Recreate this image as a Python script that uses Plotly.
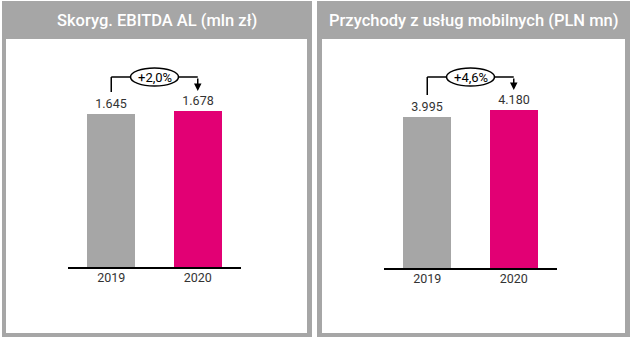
import plotly.graph_objects as go

# Chart data
years = ["2019", "2020"]
ebitda_al = [1645, 1678]
mobile_revenue = [3995, 4180]
titles = ["Skoryg. EBITDA AL (mln zł)", "Przychody z usług mobilnych (PLN mn)"]
changes = ["+2,0%", "+4,6%"]

W, H = 630, 341
GRAY = "#a6a6a6"
MAGENTA = "#e20074"
TEXT = "#333333"
FONT = "Roboto, Arial, sans-serif"


def fx(px):
    return px / W


def fy(py):
    return 1 - py / H


panels = [
    dict(box=(2, 1, 312, 337), inner=(6, 39, 307, 333), xdom=(68, 241),
         base=267, top=39, ymax=2451, xa="x", ya="y",
         values=ebitda_al, title=titles[0], change=changes[0]),
    dict(box=(317, 1, 630, 337), inner=(322, 39, 625, 333), xdom=(384, 557),
         base=268, top=39, ymax=6059, xa="x2", ya="y2",
         values=mobile_revenue, title=titles[1], change=changes[1]),
]

fig = go.Figure()
shapes = []
annotations = []

for i, p in enumerate(panels):
    # panel frame with grey header band
    bx0, by0, bx1, by1 = p["box"]
    ix0, iy0, ix1, iy1 = p["inner"]
    shapes.append(dict(type="rect", xref="paper", yref="paper", layer="below",
                       x0=fx(bx0), x1=fx(bx1), y0=fy(by1), y1=fy(by0),
                       fillcolor=GRAY, line=dict(width=0)))
    shapes.append(dict(type="rect", xref="paper", yref="paper", layer="below",
                       x0=fx(ix0), x1=fx(ix1), y0=fy(iy1), y1=fy(iy0),
                       fillcolor="white", line=dict(width=0)))
    annotations.append(dict(xref="paper", yref="paper", x=fx((bx0 + bx1) / 2),
                            y=fy(21), text=p["title"], showarrow=False,
                            xanchor="center", yanchor="middle",
                            font=dict(family=FONT, size=16.5, color="white",
                                      weight=500)))

    fig.add_trace(go.Bar(
        x=years, y=p["values"], xaxis=p["xa"], yaxis=p["ya"],
        marker=dict(color=[GRAY, MAGENTA], line=dict(width=0)),
        width=0.55, text=p["values"], texttemplate="%{y:,}",
        textposition="outside", cliponaxis=False,
        textfont=dict(family=FONT, size=12.5, color=TEXT),
        showlegend=False, hoverinfo="skip",
    ))

    # growth bracket between the two bars
    ppu = (p["base"] - p["top"]) / p["ymax"]  # pixels per unit
    level = (p["base"] - 77) / ppu
    start = p["values"][0] + 22 / ppu
    tip = p["values"][1] + 20 / ppu
    unit_px = (p["xdom"][1] - p["xdom"][0]) / 2
    half = 24 / unit_px
    e_y0 = (p["base"] - 86) / ppu
    e_y1 = (p["base"] - 68) / ppu
    ln = dict(color="black", width=1.5)
    shapes += [
        dict(type="line", xref=p["xa"], yref=p["ya"], x0=0, x1=0,
             y0=start, y1=level, line=ln),
        dict(type="line", xref=p["xa"], yref=p["ya"], x0=0, x1=0.5 - half,
             y0=level, y1=level, line=ln),
        dict(type="line", xref=p["xa"], yref=p["ya"], x0=0.5 + half, x1=1,
             y0=level, y1=level, line=ln),
        dict(type="circle", xref=p["xa"], yref=p["ya"], x0=0.5 - half,
             x1=0.5 + half, y0=e_y0, y1=e_y1, fillcolor="white", line=ln),
    ]
    annotations.append(dict(xref=p["xa"], yref=p["ya"], x=1, y=tip,
                            ax=1, ay=level, axref=p["xa"], ayref=p["ya"],
                            text="", showarrow=True, arrowhead=2,
                            arrowsize=1, arrowwidth=1.5, arrowcolor="black",
                            standoff=0))
    annotations.append(dict(xref=p["xa"], yref=p["ya"], x=0.5, y=level,
                            text=p["change"], showarrow=False,
                            font=dict(family=FONT, size=13, color="black")))

axis_common_x = dict(type="category", range=[-0.5, 1.5], showgrid=False,
                     zeroline=False, showline=True, linecolor="black",
                     linewidth=2, ticks="", fixedrange=True,
                     ticklabelstandoff=-2,
                     tickfont=dict(family=FONT, size=12.5, color=TEXT))
axis_common_y = dict(showgrid=False, zeroline=False, showline=False,
                     showticklabels=False, ticks="", fixedrange=True)

fig.update_layout(
    width=W, height=H, margin=dict(l=0, r=0, t=0, b=0),
    paper_bgcolor="white", plot_bgcolor="rgba(0,0,0,0)",
    separators=",.", bargap=0,
    shapes=shapes, annotations=annotations,
    xaxis=dict(axis_common_x, domain=[fx(68), fx(241)], anchor="y"),
    xaxis2=dict(axis_common_x, domain=[fx(384), fx(557)], anchor="y2"),
    yaxis=dict(axis_common_y, domain=[fy(267), fy(39)], range=[0, 2451],
               anchor="x"),
    yaxis2=dict(axis_common_y, domain=[fy(268), fy(39)], range=[0, 6059],
                anchor="x2"),
)

fig.write_html("out.html", config=dict(displayModeBar=False))
